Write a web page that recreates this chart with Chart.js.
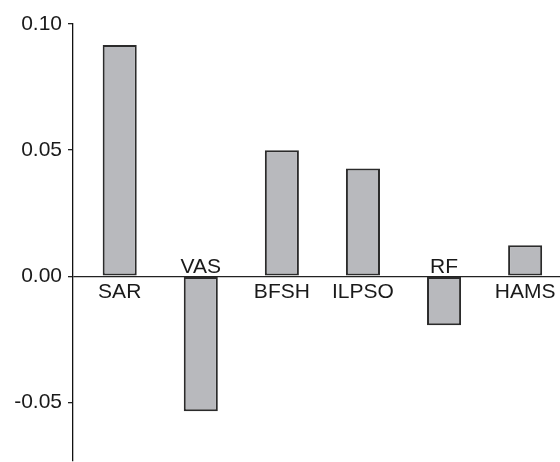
<!DOCTYPE html>
<html>
<head>
<meta charset="utf-8">
<style>
  html, body { margin: 0; padding: 0; background: #fff; overflow: hidden; height: 462px; }
  #wrap { width: 560px; height: 479px; position: relative; }
</style>
<script src="https://cdn.jsdelivr.net/npm/chart.js@4/dist/chart.umd.min.js"></script>
</head>
<body>
<div id="wrap"><canvas id="chart"></canvas></div>
<script>
const muscles = ['SAR', 'VAS', 'BFSH', 'ILPSO', 'RF', 'HAMS']
const values = [0.0917, -0.0535, 0.050, 0.0427, -0.0194, 0.0123]
const yTicks = [0.10, 0.05, 0.00, -0.05]

const FONT = '"Liberation Sans", Arial, sans-serif'

// names sit on the zero line, below positive bars and above negative ones
const barNames = {
  id: 'barNames',
  afterDatasetsDraw (chart) {
    const { ctx, scales } = chart
    const zero = scales.y.getPixelForValue(0)
    ctx.save()
    ctx.font = '21px ' + FONT
    ctx.fillStyle = '#1a1a1a'
    ctx.textAlign = 'center'
    ctx.textBaseline = 'alphabetic'
    muscles.forEach((name, i) => {
      const x = scales.x.getPixelForValue(i)
      const y = values[i] >= 0 ? zero + 21.5 : zero - 3.5
      ctx.fillText(name, x, y)
    })
    ctx.restore()
  }
}

new Chart(document.getElementById('chart'), {
  type: 'bar',
  data: {
    datasets: [{
      data: values.map((v, i) => ({ x: i, y: v })),
      backgroundColor: '#b8b9bd',
      borderColor: '#2b2b2b',
      borderWidth: 2,
      borderSkipped: false,
      barPercentage: 0.42,
      categoryPercentage: 1
    }]
  },
  options: {
    responsive: true,
    maintainAspectRatio: false,
    animation: false,
    layout: { padding: { top: 24, bottom: 2, left: 0, right: 0 } },
    plugins: { legend: { display: false }, tooltip: { enabled: false } },
    scales: {
      x: {
        type: 'linear',
        offset: false,
        min: -0.576,
        max: 5.43,
        display: false
      },
      y: {
        min: -0.073,
        max: 0.10,
        afterFit (scale) { scale.width = 73 },
        afterBuildTicks (scale) { scale.ticks = yTicks.map(v => ({ value: v })) },
        border: { display: true, color: '#111', width: 1.3 },
        grid: {
          drawOnChartArea: true,
          color: c => (c.tick && c.tick.value === 0 ? '#222' : 'rgba(0,0,0,0)'),
          lineWidth: 1.3,
          tickLength: 5,
          tickColor: '#222',
          tickWidth: 1.3
        },
        ticks: {
          padding: 6,
          color: '#1a1a1a',
          font: { family: FONT, size: 21 },
          callback: v => v.toFixed(2)
        }
      }
    }
  },
  plugins: [barNames]
})
</script>
</body>
</html>
